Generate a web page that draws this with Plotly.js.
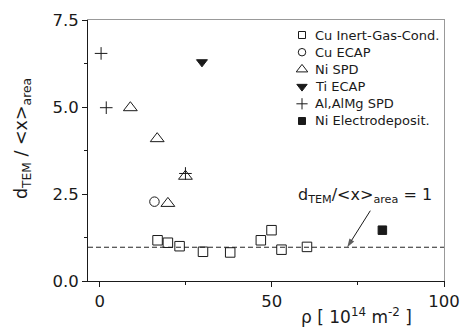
<!DOCTYPE html>
<html><head><meta charset="utf-8">
<script src="https://cdn.plot.ly/plotly-3.0.1.min.js"></script>
<style>html,body{margin:0;padding:0;background:#fff}#chart{width:463px;height:329px}</style>
</head><body><div id="chart"></div>
<script>
// ---- data ----
const cuIgcX  = [16.8, 19.8, 23.2, 30.0, 37.9, 46.8, 49.9, 52.8, 60.2];
const cuIgcY  = [1.17, 1.10, 1.00, 0.84, 0.82, 1.17, 1.46, 0.90, 0.98];
const cuEcapX = [15.9];
const cuEcapY = [2.28];
const niSpdX  = [8.9, 16.7, 19.8, 24.9];
const niSpdY  = [4.98, 4.09, 2.23, 3.01];
const tiEcapX = [29.7];
const tiEcapY = [6.29];
const alSpdX  = [0.4, 1.9, 24.9];
const alSpdY  = [6.54, 4.98, 3.09];
const niEdX   = [82.1];
const niEdY   = [1.46];
const refLineX = [-3.4, 100];
const refLineY = [0.97, 0.97];
const seriesNames = ['Cu Inert-Gas-Cond.', 'Cu ECAP', 'Ni SPD', 'Ti ECAP', 'Al,AlMg SPD', 'Ni Electrodeposit.'];
const xTickVals = [0, 50, 100];
const yTickVals = [0, 2.5, 5, 7.5];
const yTickText = ['0.0', '2.5', '5.0', '7.5'];
const arrowX = [78.6, 71.9];   // tail, head
const arrowY = [2.02, 0.97];

// ---- styling / layout ----
const W = 463, H = 329;
const M = {l: 88, r: 19, t: 20, b: 48};
const FONT = 'DejaVu Sans';
const ink = '#1a1a1a';
const pw = W - M.l - M.r, ph = H - M.t - M.b;
const pxX = px => (px - M.l) / pw;
const pxY = py => 1 - (py - M.t) / ph;

const symbols = [
  {symbol: 'square-open', size: 9.5},
  {symbol: 'circle-open', size: 9.5},
  {symbol: 'triangle-up-open', size: 12},
  {symbol: 'triangle-down', size: 9.5},
  {symbol: 'cross-thin-open', size: 9},
  {symbol: 'square', size: 8.5}
];
const legSym = [
  {symbol: 'square-open', size: 7},
  {symbol: 'circle-open', size: 7.5},
  {symbol: 'triangle-up-open', size: 10},
  {symbol: 'triangle-down', size: 9},
  {symbol: 'cross-thin-open', size: 8},
  {symbol: 'square', size: 7}
];
const seriesX = [cuIgcX, cuEcapX, niSpdX, tiEcapX, alSpdX, niEdX];
const seriesY = [cuIgcY, cuEcapY, niSpdY, tiEcapY, alSpdY, niEdY];

const traces = [];
traces.push({
  x: refLineX, y: refLineY, mode: 'lines', type: 'scatter', showlegend: false,
  line: {color: '#222', width: 1, dash: '5px,3px'}, hoverinfo: 'skip'
});
// arrow shaft + head
traces.push({
  x: arrowX, y: arrowY, mode: 'lines+markers', type: 'scatter', showlegend: false,
  hoverinfo: 'skip', line: {color: ink, width: 1}, cliponaxis: false,
  marker: {symbol: ['circle', 'arrow'], size: [0.1, 9], angleref: 'previous',
           color: ink, line: {width: 0}}
});
seriesNames.forEach((name, i) => {
  traces.push({
    x: seriesX[i], y: seriesY[i], name: name, type: 'scatter', mode: 'markers',
    showlegend: false, cliponaxis: false,
    marker: {symbol: symbols[i].symbol, size: symbols[i].size, color: ink,
             line: {color: ink, width: 1}}
  });
});

// custom compact legend (pixel-unit overlay axes)
const legSymX = 302, legTextX = 313, legTop = 35, legStep = 17.2;
seriesNames.forEach((name, i) => {
  traces.push({
    x: [legSymX], y: [legTop + i * legStep], xaxis: 'x2', yaxis: 'y2',
    type: 'scatter', mode: 'markers', showlegend: false, hoverinfo: 'skip',
    marker: {symbol: legSym[i].symbol, size: legSym[i].size, color: ink,
             line: {color: ink, width: 1}}
  });
});

const annotations = seriesNames.map((name, i) => ({
  xref: 'paper', yref: 'paper', x: pxX(legTextX), y: pxY(legTop + i * legStep),
  xanchor: 'left', yanchor: 'middle', showarrow: false, text: name,
  font: {family: FONT, size: 13, color: ink}
}));
annotations.push({
  xref: 'paper', yref: 'paper', x: pxX(365), y: pxY(195),
  xanchor: 'center', yanchor: 'middle', showarrow: false,
  text: 'd<sub>TEM</sub>/&lt;x&gt;<sub>area</sub> = 1',
  font: {family: FONT, size: 16, color: ink}
});
annotations.push({
  xref: 'paper', yref: 'paper', x: pxX(22), y: pxY(139),
  xanchor: 'center', yanchor: 'middle', textangle: -90, showarrow: false,
  text: 'd<sub>TEM</sub> / &lt;x&gt;<sub>area</sub>',
  font: {family: FONT, size: 17.5, color: ink}
});
annotations.push({
  xref: 'paper', yref: 'paper', x: pxX(356), y: pxY(316),
  xanchor: 'center', yanchor: 'middle', showarrow: false,
  text: 'ρ [ 10<sup>14</sup> m<sup>-2</sup> ]',
  font: {family: FONT, size: 17, color: ink}
});

const layout = {
  width: W, height: H, margin: M,
  paper_bgcolor: '#fff', plot_bgcolor: '#fff',
  font: {family: FONT, size: 16.5, color: ink},
  showlegend: false,
  xaxis: {
    range: [refLineX[0], 100], tickvals: xTickVals, ticks: 'outside', ticklen: 5,
    tickcolor: ink, tickwidth: 1, showline: true, linecolor: ink, linewidth: 1,
    showgrid: false, zeroline: false,
    tickfont: {family: FONT, size: 16.5, color: ink},
    minor: {tickvals: [25, 75], ticks: 'outside', ticklen: 3, tickcolor: ink, showgrid: false}
  },
  yaxis: {
    range: [0, 7.5], tickvals: yTickVals, ticktext: yTickText, ticks: 'outside', ticklen: 5,
    tickcolor: ink, tickwidth: 1, showline: true, linecolor: ink, linewidth: 1,
    showgrid: false, zeroline: false,
    tickfont: {family: FONT, size: 16.5, color: ink},
    minor: {tickvals: [1.25, 3.75, 6.25], ticks: 'outside', ticklen: 3, tickcolor: ink, showgrid: false}
  },
  xaxis2: {
    overlaying: 'x', side: 'top', range: [M.l, W - M.r], showline: true,
    linecolor: '#999', linewidth: 1, showticklabels: false, ticks: '',
    showgrid: false, zeroline: false, fixedrange: true
  },
  yaxis2: {
    overlaying: 'y', side: 'right', range: [H - M.b, M.t], showline: true,
    linecolor: '#999', linewidth: 1, showticklabels: false, ticks: '',
    showgrid: false, zeroline: false, fixedrange: true
  },
  annotations: annotations
};

Plotly.newPlot('chart', traces, layout, {displayModeBar: false, staticPlot: true});
</script>
</body></html>
